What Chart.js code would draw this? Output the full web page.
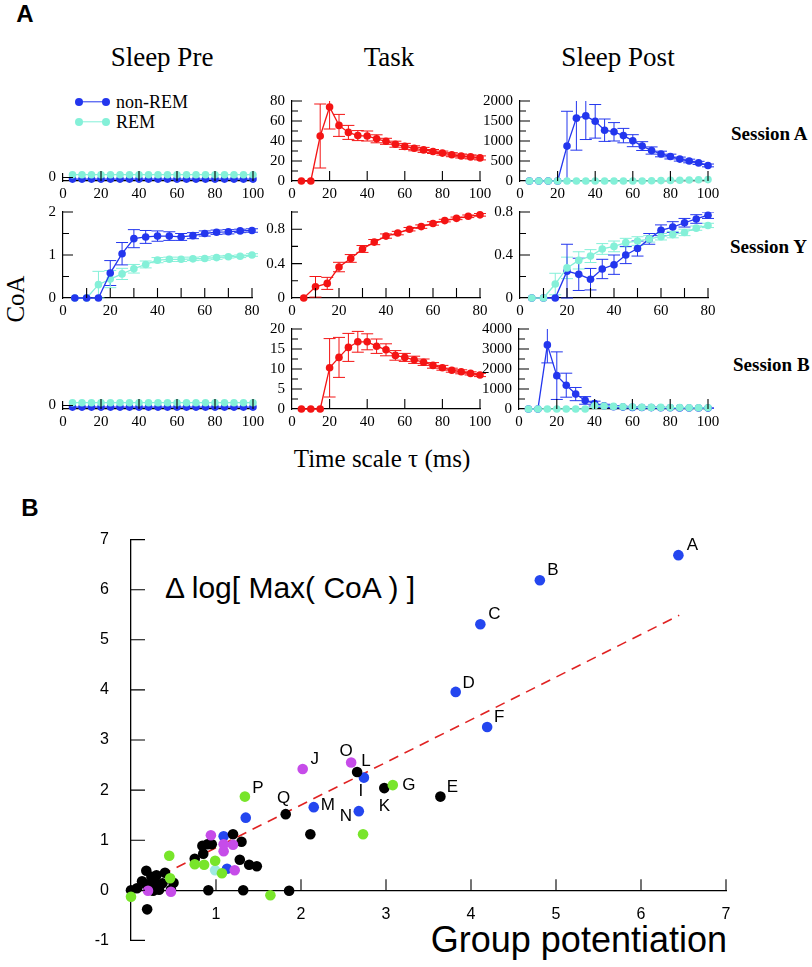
<!DOCTYPE html>
<html><head><meta charset="utf-8">
<script src="https://cdn.jsdelivr.net/npm/chart.js@4.4.1/dist/chart.umd.min.js"></script>
<style>
html,body{margin:0;padding:0;background:#fff;}
#root{position:relative;width:812px;height:967px;overflow:hidden;background:#fff;}
canvas{position:absolute;}
.t{position:absolute;white-space:nowrap;line-height:1;color:#000;}
.c{transform:translate(-50%,-50%);}
.lv{transform:translate(0,-50%);}
.serif{font-family:'Liberation Serif','Times New Roman',serif;}
.sans{font-family:'Liberation Sans',Arial,sans-serif;}
.dot{position:absolute;width:8px;height:8px;border-radius:50%;transform:translate(-50%,-50%);}
.ln{position:absolute;height:1.4px;transform:translate(0,-50%);}
</style></head><body><div id="root">
<div class="t sans c" style="left:25px;top:14px;font-size:24px;font-weight:bold">A</div>
<div class="t serif c" style="left:162px;top:57px;font-size:27px">Sleep Pre</div>
<div class="t serif c" style="left:389px;top:57px;font-size:27px">Task</div>
<div class="t serif c" style="left:618px;top:57px;font-size:27px">Sleep Post</div>
<div class="t serif lv" style="left:731px;top:133px;font-size:19px;font-weight:bold">Session A</div>
<div class="t serif lv" style="left:730px;top:246px;font-size:19px;font-weight:bold">Session Y</div>
<div class="t serif lv" style="left:733px;top:364px;font-size:19px;font-weight:bold">Session B</div>
<div class="t serif" style="left:15px;top:299px;font-size:25px;transform:translate(-50%,-50%) rotate(-90deg)">CoA</div>
<div class="t serif c" style="left:382px;top:458px;font-size:25px">Time scale τ (ms)</div>
<div class="t sans c" style="left:30px;top:508px;font-size:24px;font-weight:bold">B</div>
<div class="t sans lv" style="left:165px;top:588px;font-size:30px">Δ log[ Max( CoA ) ]</div>
<div class="t sans" style="right:85px;top:940px;font-size:36px;transform:translate(0,-50%)">Group potentiation</div>
<!-- legend -->
<div class="ln" style="left:79px;top:102px;width:27px;background:#2336ee"></div>
<div class="dot" style="left:79px;top:102px;background:#2336ee"></div>
<div class="dot" style="left:106px;top:102px;background:#2336ee"></div>
<div class="t serif lv" style="left:116px;top:102px;font-size:18px">non-REM</div>
<div class="ln" style="left:79px;top:122px;width:27px;background:#84f0d8"></div>
<div class="dot" style="left:79px;top:122px;background:#84f0d8"></div>
<div class="dot" style="left:106px;top:122px;background:#84f0d8"></div>
<div class="t serif lv" style="left:116px;top:122px;font-size:18px">REM</div>
</div>
<script>
// ---------- DATA: panel A ----------
const tau100 = [5,10,15,20,25,30,35,40,45,50,55,60,65,70,75,80,85,90,95,100];
const tau80  = [5,10,15,20,25,30,35,40,45,50,55,60,65,70,75,80];

// Session A
const preA_nonREM = [-0.45,-0.45,-0.45,-0.45,-0.45,-0.45,-0.45,-0.45,-0.45,-0.45,-0.45,-0.45,-0.45,-0.45,-0.45,-0.45,-0.45,-0.45,-0.45,-0.45];
const preA_REM    = [0.8,0.8,0.8,0.8,0.8,0.8,0.8,0.8,0.8,0.8,0.8,0.8,0.8,0.8,0.8,0.8,0.8,0.8,0.8,0.8];
const taskA       = [0,0,45,74,55.6,48.6,45.4,45,42.2,39.7,36.8,34.6,32.7,31.1,29.5,27.9,26.3,25,24.1,23.1];
const taskA_err   = [0,0,32,22,11,7,5,5,4,3,3,3,2.5,2.5,2,2,2,2,2,2];
const postA_nonREM     = [0,0,0,0,873,1571,1627,1492,1270,1230,1135,1008,873,762,675,611,548,500,452,389];
const postA_nonREM_err = [0,0,0,0,870,800,590,420,280,230,180,150,110,90,70,60,50,45,40,35];
const postA_REM        = [0,0,0,0,0,0,0,0,0,0,0,0,0,5,10,15,20,25,30,35];

// Session Y
const preY_nonREM     = [0,0,0,0.58,1.03,1.38,1.42,1.44,1.44,1.42,1.45,1.50,1.53,1.54,1.56,1.57];
const preY_nonREM_err = [0,0,0,0.29,0.26,0.21,0.15,0.12,0.10,0.08,0.07,0.06,0.05,0.05,0.04,0.04];
const preY_REM        = [0,0,0.31,0.44,0.56,0.68,0.78,0.88,0.90,0.90,0.91,0.92,0.94,0.96,0.97,1.00];
const preY_REM_err    = [0,0,0.31,0.20,0.13,0.10,0.08,0.06,0.05,0.05,0.04,0.04,0.04,0.03,0.03,0.03];
const taskY           = [0,0.13,0.17,0.36,0.46,0.57,0.65,0.72,0.755,0.80,0.83,0.867,0.90,0.926,0.95,0.967];
const taskY_err       = [0,0.12,0.07,0.055,0.045,0.04,0.03,0.025,0.02,0.02,0.02,0.02,0.015,0.015,0.015,0.015];
const postY_nonREM     = [0,0,0,0.25,0.22,0.175,0.27,0.31,0.40,0.46,0.55,0.63,0.66,0.70,0.735,0.77];
const postY_nonREM_err = [0,0,0,0.25,0.15,0.10,0.09,0.09,0.08,0.07,0.05,0.05,0.05,0.04,0.04,0.03];
const postY_REM        = [0,0,0.13,0.28,0.35,0.39,0.456,0.48,0.515,0.53,0.55,0.57,0.59,0.61,0.65,0.675];
const postY_REM_err    = [0,0,0.10,0.10,0.08,0.06,0.05,0.05,0.04,0.04,0.03,0.03,0.03,0.03,0.02,0.02];

// Session B
const preB_nonREM = [-0.45,-0.45,-0.45,-0.45,-0.45,-0.45,-0.45,-0.45,-0.45,-0.45,-0.45,-0.45,-0.45,-0.45,-0.45,-0.45,-0.45,-0.45,-0.45,-0.45];
const preB_REM    = [0.8,0.8,0.8,0.8,0.8,0.8,0.8,0.8,0.8,0.8,0.8,0.8,0.8,0.8,0.8,0.8,0.8,0.8,0.8,0.8];
const taskB       = [0,0,0,10.3,12.9,15.4,16.8,16.8,15.7,14.8,13.4,12.9,12.3,11.7,10.9,10.3,9.7,9.3,8.9,8.5];
const taskB_err   = [0,0,0,7.3,5,3.5,2.6,2,1.8,1.5,1.2,1,0.9,0.8,0.7,0.6,0.5,0.5,0.4,0.4];
const postB_nonREM     = [0,0,3205,1667,1190,746,429,270,157,110,95,80,75,70,65,60,55,50,48,45];
const postB_nonREM_err = [0,0,900,1190,600,330,190,120,80,50,40,30,25,20,20,15,15,15,10,10];
const postB_REM        = [0,0,0,0,0,0,0,160,150,130,110,100,90,80,80,70,70,60,60,60];

// tick values
const xLab100 = [0,20,40,60,80,100];
const xLab80  = [0,20,40,60,80];
const xMaj100 = [20,40,60,80,100];
const xMaj80  = [10,20,30,40,50,60,70,80];
const yLabPre = [0];
const yLabTaskA = [0,20,40,60,80],   yMinTaskA = [10,30,50,70];
const yLabPostA = [0,500,1000,1500,2000], yMinPostA = [250,750,1250,1750];
const yLabPreY  = [0,1,2],           yMinPreY  = [0.5,1.5];
const yLabTaskY = [0,0.4,0.8],       yMinTaskY = [0.2,0.6,1.0];
const yLabPostY = [0,0.4,0.8],       yMinPostY = [0.2,0.6];
const yLabTaskB = [0,5,10,15,20],    yMinTaskB = [2.5,7.5,12.5,17.5];
const yLabPostB = [0,1000,2000,3000,4000], yMinPostB = [500,1500,2500,3500];

// ---------- DATA: panel B ----------
const blueX  = [6.44,4.81,4.11,3.82,4.19,2.74,2.15,2.68,1.35,1.09,1.13];
const blueY  = [6.69,6.19,5.31,3.96,3.26,2.25,1.66,1.58,1.45,1.08,0.43];
const blueNames = ['A','B','C','D','F','I','M','N','','',''];
const blackX = [2.66,2.98,3.64,1.82,2.11,0.00,0.19,0.18,0.13,0.18,0.24,0.28,0.33,0.30,0.40,0.47,0.50,0.07,0.26,0.37,0.91,1.32,1.86,0.75,0.85,0.84,0.90,0.95,1.20,1.30,1.28,1.39,1.48];
const blackY = [2.36,2.04,1.87,1.52,1.12,0.00,-0.38,0.39,0.18,0.11,0.27,0.14,0.01,0.30,0.35,0.01,0.15,0.04,-0.01,0.14,0.00,0.00,-0.01,0.63,0.73,0.89,0.92,0.92,1.12,0.97,0.61,0.51,0.48];
const blackNames = ['L','K','E','Q'];
const greenX = [1.34,3.08,2.73,0.00,0.45,0.99,0.75,0.86,1.07,1.64,0.46];
const greenY = [1.87,2.10,1.12,-0.13,0.69,0.59,0.52,0.51,0.34,-0.10,0.24];
const greenNames = ['P','G'];
const purpleX = [2.02,2.59,0.94,1.09,1.20,1.09,1.22,0.20,0.47];
const purpleY = [2.42,2.55,1.10,0.78,0.91,0.92,0.40,-0.01,-0.03];
const purpleNames = ['J','O'];
const cyanX = [0.99];
const cyanY = [0.40];
const fitX = [0, 6.45];
const fitY = [0, 5.49];
const bXLab = [1,2,3,4,5,6,7];
const bYLab = [-1,0,1,2,3,4,5,6,7];

// ---------- rendering ----------
const SERIF = "'Liberation Serif','Times New Roman',serif";
const SANS = "'Liberation Sans',Arial,sans-serif";
const C_NONREM = '#2336ee', C_REM = '#84f0d8', C_TASK = '#f41414';
const root = document.getElementById('root');

function mkCanvas(l,t,w,h){
  const c=document.createElement('canvas');
  c.width=w;c.height=h;c.style.left=l+'px';c.style.top=t+'px';
  c.style.width=w+'px';c.style.height=h+'px';root.appendChild(c);return c;
}

const errBars = {id:'errBars', beforeDatasetsDraw(chart){
  const {ctx, chartArea:ca} = chart;
  ctx.save();
  ctx.beginPath(); ctx.rect(ca.left-10, ca.top, ca.right-ca.left+20, ca.bottom-ca.top+1); ctx.clip();
  chart.data.datasets.forEach((ds,i)=>{
    if(!ds.errors) return;
    const meta = chart.getDatasetMeta(i);
    const ys = chart.scales[meta.yAxisID];
    ctx.strokeStyle = ds.borderColor; ctx.lineWidth = 1;
    ctx.beginPath();
    meta.data.forEach((pt,j)=>{
      const e = ds.errors[j]; if(!e) return;
      const v = ds.data[j].y;
      const yt = ys.getPixelForValue(v+e), yb = ys.getPixelForValue(v-e), x = pt.x;
      ctx.moveTo(x,yt); ctx.lineTo(x,yb);
      ctx.moveTo(x-6,yt); ctx.lineTo(x+6,yt);
      ctx.moveTo(x-6,yb); ctx.lineTo(x+6,yb);
    });
    ctx.stroke();
  });
  ctx.restore();
}};

const inTicks = {id:'inTicks', afterDatasetsDraw(chart, args, o){
  if(!o || !o.on) return;
  const {ctx, chartArea:ca, scales:{x,y}} = chart;
  const y0 = (o.xAt!==undefined) ? y.getPixelForValue(o.xAt) : ca.bottom;
  const x0 = ca.left;
  ctx.save(); ctx.strokeStyle='#000'; ctx.lineWidth=1.1;
  ctx.beginPath();
  (o.xMajor||[]).forEach(v=>{const p=x.getPixelForValue(v); ctx.moveTo(p,y0); ctx.lineTo(p,y0-o.xLen);});
  (o.xMinor||[]).forEach(v=>{const p=x.getPixelForValue(v); ctx.moveTo(p,y0); ctx.lineTo(p,y0-o.minLen);});
  (o.yMajor||[]).forEach(v=>{const p=y.getPixelForValue(v); ctx.moveTo(x0,p); ctx.lineTo(x0+o.yLen,p);});
  (o.yMinor||[]).forEach(v=>{const p=y.getPixelForValue(v); ctx.moveTo(x0,p); ctx.lineTo(x0+o.minLen,p);});
  ctx.stroke(); ctx.restore();
}};

const ptLabels = {id:'ptLabels', afterDatasetsDraw(chart, args, o){
  if(!o || !o.on) return;
  const ctx = chart.ctx;
  ctx.save(); ctx.font = o.font; ctx.fillStyle='#000'; ctx.textAlign='center'; ctx.textBaseline='middle';
  chart.data.datasets.forEach((ds,i)=>{
    if(!ds.names) return;
    const meta = chart.getDatasetMeta(i);
    meta.data.forEach((pt,j)=>{
      const n = ds.names[j]; if(!n) return;
      const off = o.offsets[n] || [12,-10];
      ctx.fillText(n, pt.x+off[0], pt.y+off[1]);
    });
  });
  ctx.restore();
}};

function series(tau, vals, errs, color){
  return {data: tau.map((t,i)=>({x:t,y:vals[i]})), errors: errs||null,
    borderColor: color, backgroundColor: color, borderWidth:1.3,
    pointRadius:3.8, pointHoverRadius:3.8, pointBorderWidth:0, tension:0, clip:false};
}

const YW=60, XH=30, PT=12, PR=16;
function small(box, xMax, yMin, yMax, xLab, yLab, tk, datasets){
  const w = box.r-box.l+YW+PR, h = box.b-box.t+PT+XH;
  const c = mkCanvas(box.l-YW, box.t-PT, w, h);
  const tickFont = {family:SERIF, size:15};
  new Chart(c, {type:'line', data:{datasets}, options:{
    responsive:false, animation:false, devicePixelRatio:1, events:[],
    layout:{padding:{top:PT,right:PR,left:0,bottom:0}},
    plugins:{legend:{display:false}, tooltip:{enabled:false},
      inTicks:Object.assign({on:true, xLen:10, yLen:10, minLen:6}, tk)},
    scales:{
      x:{type:'linear', min:0, max:xMax, grid:{display:false, drawTicks:false},
         border:{color:'#000', width:1.2},
         afterBuildTicks:s=>{s.ticks = xLab.map(v=>({value:v}));},
         afterFit:s=>{s.height=XH;},
         ticks:{color:'#000', font:tickFont, padding:4, autoSkip:false, maxRotation:0, callback:v=>String(v)}},
      y:{type:'linear', min:yMin, max:yMax, grid:{display:false, drawTicks:false},
         border:{color:'#000', width:1.2},
         afterBuildTicks:s=>{s.ticks = yLab.map(v=>({value:v}));},
         afterFit:s=>{s.width=YW;},
         ticks:{color:'#000', font:tickFont, padding:7, autoSkip:false, callback:v=>String(v)}}
    }
  }, plugins:[errBars, inTicks]});
}

// Row 1: Session A
small({l:63,r:253,t:170,b:181}, 100, -1, 1, xLab100, yLabPre, {xMajor:xMaj100, yMajor:[0]},
  [series(tau100, preA_REM, null, C_REM), series(tau100, preA_nonREM, null, C_NONREM)]);
small({l:292,r:480,t:97,b:181}, 100, 0, 80, xLab100, yLabTaskA, {xMajor:xMaj100, yMajor:yLabTaskA.slice(1), yMinor:yMinTaskA},
  [series(tau100, taskA, taskA_err, C_TASK)]);
small({l:520,r:708,t:97,b:181}, 100, 0, 2000, xLab100, yLabPostA, {xMajor:xMaj100, yMajor:yLabPostA.slice(1), yMinor:yMinPostA},
  [series(tau100, postA_REM, null, C_REM), series(tau100, postA_nonREM, postA_nonREM_err, C_NONREM)]);

// Row 2: Session Y
small({l:63,r:252,t:208,b:298}, 80, 0, 2, xLab80, yLabPreY, {xMajor:xMaj80, yMajor:yLabPreY.slice(1), yMinor:yMinPreY},
  [series(tau80, preY_nonREM, preY_nonREM_err, C_NONREM), series(tau80, preY_REM, preY_REM_err, C_REM)]);
small({l:292,r:480,t:208,b:298}, 80, 0, 1.0, xLab80, yLabTaskY, {xMajor:xMaj80, yMajor:yLabTaskY.slice(1), yMinor:yMinTaskY},
  [series(tau80, taskY, taskY_err, C_TASK)]);
small({l:520,r:708,t:208,b:298}, 80, 0, 0.8, xLab80, yLabPostY, {xMajor:xMaj80, yMajor:yLabPostY.slice(1), yMinor:yMinPostY},
  [series(tau80, postY_REM, postY_REM_err, C_REM), series(tau80, postY_nonREM, postY_nonREM_err, C_NONREM)]);

// Row 3: Session B
small({l:63,r:253,t:398,b:409}, 100, -1, 1, xLab100, yLabPre, {xMajor:xMaj100, yMajor:[0]},
  [series(tau100, preB_REM, null, C_REM), series(tau100, preB_nonREM, null, C_NONREM)]);
small({l:292,r:480,t:325,b:409}, 100, 0, 20, xLab100, yLabTaskB, {xMajor:xMaj100, yMajor:yLabTaskB.slice(1), yMinor:yMinTaskB},
  [series(tau100, taskB, taskB_err, C_TASK)]);
small({l:519,r:708,t:325,b:409}, 100, 0, 4000, xLab100, yLabPostB, {xMajor:xMaj100, yMajor:yLabPostB.slice(1), yMinor:yMinPostB},
  [series(tau100, postB_REM, null, C_REM), series(tau100, postB_nonREM, postB_nonREM_err, C_NONREM)]);

// ---------- Panel B ----------
(function(){
  const box = {l:131, r:726, t:528, b:947};
  const BYW=60, BPT=20, BPR=40, BPB=25;
  const w = box.r-box.l+BYW+BPR, h = box.b-box.t+BPT+BPB;
  const c = mkCanvas(box.l-BYW, box.t-BPT, w, h);
  const pts = (xs,ys)=>xs.map((x,i)=>({x:x,y:ys[i]}));
  const dot = (xs,ys,color,names)=>({type:'scatter', data:pts(xs,ys), backgroundColor:color, borderColor:color,
      pointRadius:5.3, pointHoverRadius:5.3, pointBorderWidth:0, clip:false, names:names||null});
  const font = {family:SANS, size:16};
  new Chart(c, {type:'scatter', data:{datasets:[
      dot(greenX, greenY, '#78e52a', greenNames),
      dot(purpleX, purpleY, '#c64ce9', purpleNames),
      dot(cyanX, cyanY, '#9eeae0'),
      dot(blackX, blackY, '#000000', blackNames),
      dot(blueX, blueY, '#2446ef', blueNames),
      {type:'scatter', showLine:true, data:pts(fitX,fitY), borderColor:'#e02222', borderWidth:1.6,
       borderDash:[10,7], pointRadius:0, backgroundColor:'#e02222', clip:false}
    ]},
    options:{
      responsive:false, animation:false, devicePixelRatio:1, events:[],
      layout:{padding:{top:BPT,right:BPR,left:0,bottom:BPB}},
      plugins:{legend:{display:false}, tooltip:{enabled:false},
        inTicks:{on:true, xAt:0, xMajor:bXLab, yMajor:bYLab, xLen:11, yLen:14, minLen:6},
        ptLabels:{on:true, font:"17px 'Liberation Sans', Arial, sans-serif", offsets:{
          A:[14,-10], B:[13,-10], C:[14,-10], D:[13,-9], F:[12,-10], J:[12,-10], O:[-5,-11], L:[9,-11],
          I:[-3,14], G:[16,0], K:[0,18], E:[12,-9], Q:[-2,-16], M:[14,-2], N:[-13,5], P:[13,-8]}}},
      scales:{
        x:{type:'linear', min:0, max:7, position:{y:0}, grid:{display:false, drawTicks:false},
           border:{color:'#000', width:1.3},
           afterBuildTicks:s=>{s.ticks = bXLab.map(v=>({value:v}));},
           afterFit:s=>{s.height=0;},
           ticks:{color:'#000', font:font, padding:15, autoSkip:false, maxRotation:0, callback:v=>String(v)}},
        y:{type:'linear', min:-1, max:7, grid:{display:false, drawTicks:false},
           border:{color:'#000', width:1.3},
           afterBuildTicks:s=>{s.ticks = bYLab.map(v=>({value:v}));},
           afterFit:s=>{s.width=BYW;},
           ticks:{color:'#000', font:font, padding:22, autoSkip:false, callback:v=>String(v)}}
      }
    }, plugins:[inTicks, ptLabels]});
})();
</script></body></html>
